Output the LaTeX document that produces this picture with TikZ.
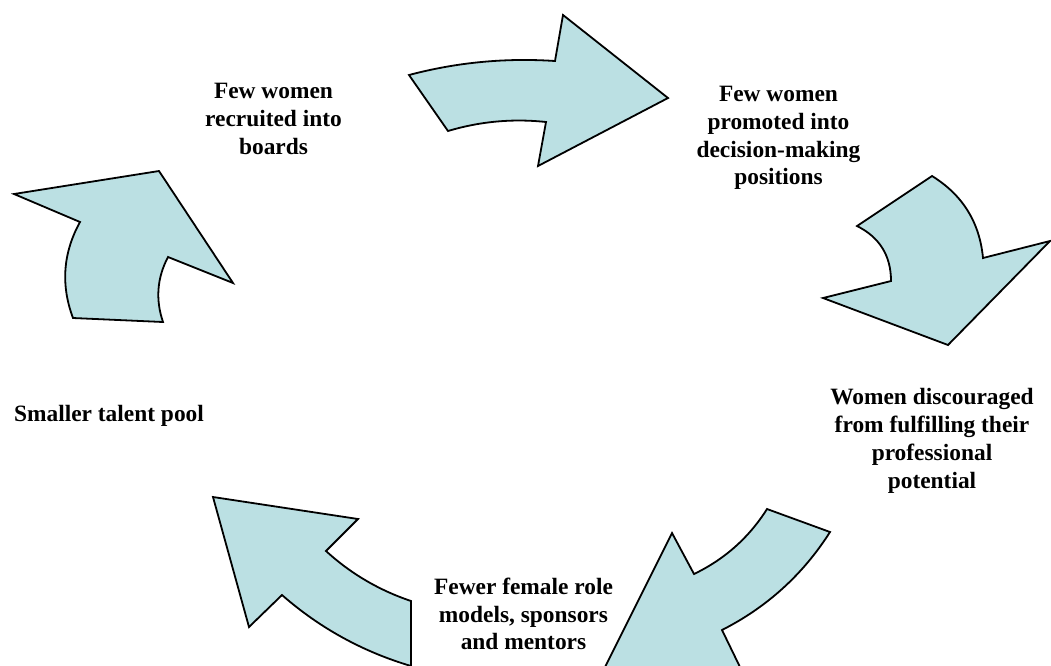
\documentclass[tikz,border=0pt]{standalone}
\usepackage{fontspec}
\setmainfont{Liberation Serif}
\usepackage{tikz}
\definecolor{cyclefill}{RGB}{187,224,227}
\tikzstyle{cyclearrow}=[
        draw=black,
        line width=1.8pt,
        fill=cyclefill
]
\tikzstyle{steptext}=[
        align=center,
        inner sep=0pt,
        font=\fontsize{23.4}{27.8}\selectfont\bfseries
]

\begin{document}
\begin{tikzpicture}[x=1pt,y=-1pt]
                        \useasboundingbox (0,0) rectangle (1051,665);
                        \clip (0,0) rectangle (1051,665);

                        \node[steptext] (boards) at (273.5,119) {Few women\\recruited into\\boards};
                        \node[steptext] (promoted) at (778.5,138) {Few women\\promoted into\\decision-making\\positions};
                        \node[steptext] (discouraged) at (932,441) {Women discouraged\\from fulfilling their\\professional\\potential};
                        \node[steptext] (rolemodels) at (523.5,614) {Fewer female role\\models, sponsors\\and mentors};
                        \node[steptext] (pool) at (109,416) {Smaller talent pool};

                        \draw[cyclearrow] (409,75) .. controls (456.9,62.3) and (505.5,57.7) .. (555,61)
                            -- (563,15) -- (668,98) -- (538,166) -- (546,122)
                            .. controls (512.7,118.4) and (480.1,121.4) .. (448,131) -- cycle;

                        \draw[cyclearrow] (932,176) .. controls (962.6,194.9) and (979.6,222.3) .. (983,258)
                            -- (1050,241) -- (948,345) -- (823,298) -- (891,281)
                            .. controls (891,255.7) and (879.6,237.3) .. (857,226) -- cycle;

                        \draw[cyclearrow] (830,532) .. controls (802.9,574.6) and (766.9,607.2) .. (722,630)
                            -- (756,700) -- (588.5,700) -- (672,533) -- (694,574)
                            .. controls (724.5,559.3) and (748.9,537.7) .. (767,509) -- cycle;

                        \draw[cyclearrow] (411,601) -- (411,666)
                            .. controls (362.8,651.7) and (319.8,628.1) .. (282,595)
                            -- (249,627) -- (213,497) -- (358,519) -- (326,551)
                            .. controls (350.8,573.7) and (379.2,590.3) .. cycle;

                        \draw[cyclearrow] (73,318) .. controls (60.6,284.9) and (63,252.9) .. (80,222)
                            -- (14,194) -- (159,171) -- (233,283) -- (168,257)
                            .. controls (157,278) and (155.4,299.6) .. (163,322) -- cycle;

                    \end{tikzpicture}
\end{document}
